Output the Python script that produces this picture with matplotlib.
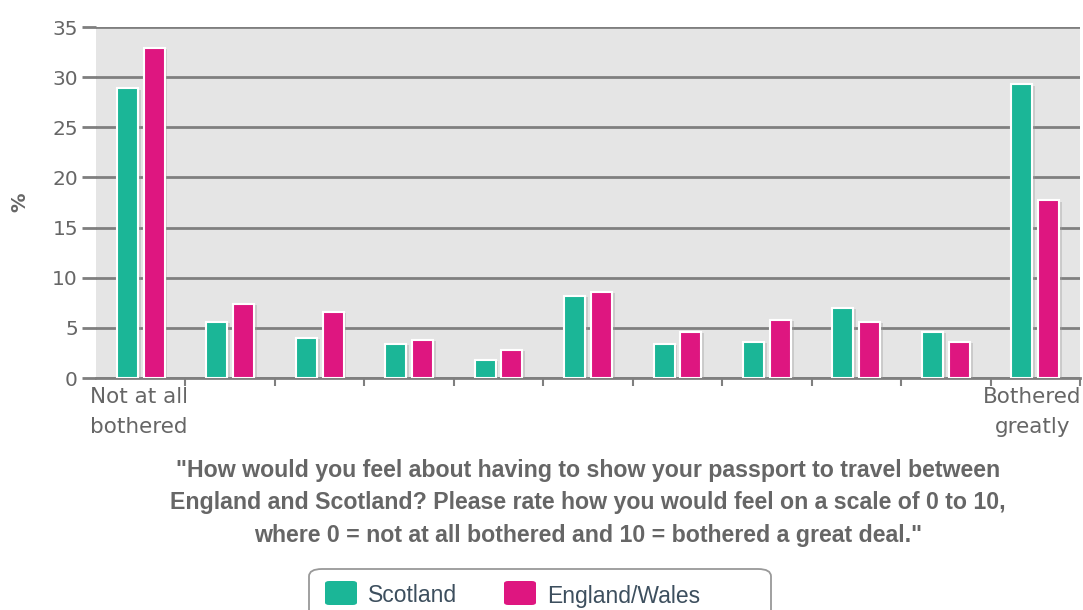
import numpy as np
import matplotlib
matplotlib.use("Agg")
import matplotlib.pyplot as plt
import matplotlib.patheffects as pe
from matplotlib.patches import FancyBboxPatch

# scale 0..10
scale = list(range(11))
scotland = [28.9, 5.6, 4.0, 3.4, 1.8, 8.2, 3.4, 3.6, 7.0, 4.6, 29.3]
england_wales = [32.9, 7.4, 6.6, 3.8, 2.8, 8.6, 4.6, 5.8, 5.6, 3.6, 17.7]
series_names = ["Scotland", "England/Wales"]
yticks = [0, 5, 10, 15, 20, 25, 30, 35]

TEAL = "#1bb697"; MAG = "#de1680"; GRIS = "#666666"; GRID = "#7f7f7f"
W, H = 1083, 610

fig = plt.figure(figsize=(W / 100, H / 100), dpi=100)
ax = fig.add_axes([96 / W, (H - 378) / H, (1080 - 96) / W, (378 - 27) / H])
ax.set_facecolor("#e5e5e5")

x = np.array(scale)
sh = [pe.SimplePatchShadow(offset=(2, -1), shadow_rgbFace="#999999", alpha=0.35), pe.Normal()]
for vals, off, col in [(scotland, -0.15, TEAL), (england_wales, 0.15, MAG)]:
    bars = ax.bar(x + off, vals, width=0.235, color=col, edgecolor="white", linewidth=1.5, zorder=3)
    for b in bars:
        b.set_path_effects(sh)

ax.set_xlim(-0.5, 10.5)
ax.set_ylim(0, 35)
ax.set_yticks(yticks)
ax.set_yticklabels([str(v) for v in yticks], color=GRIS, fontsize=14.5, family="DejaVu Sans")
ax.tick_params(axis="y", length=10, width=2, color=GRID, pad=3)
ax.yaxis.grid(True, color=GRID, lw=2, zorder=1)
ax.set_axisbelow(True)

ax.set_xticks(np.arange(0.5, 11, 1))
ax.set_xticklabels([])
ax.tick_params(axis="x", length=6, width=1.5, color=GRID, direction="out")

for s in ["top", "right", "left"]:
    ax.spines[s].set_visible(False)
ax.spines["bottom"].set_color(GRID)
ax.spines["bottom"].set_linewidth(2)

ax.text(-0.57, -0.9, "Not at all\nbothered", ha="left", va="top", color=GRIS,
        fontsize=15.5, linespacing=1.65, transform=ax.transData)
ax.text(10.52, -0.9, "Bothered\ngreatly", ha="right", va="top", color=GRIS,
        fontsize=15.5, linespacing=1.65, multialignment="center", transform=ax.transData)

fig.text(20 / W, (H - 202) / H, "%", rotation=90, ha="center", va="center",
         color=GRIS, fontsize=14, fontweight="bold")

fig.text(588 / W, (H - 503) / H,
         "\"How would you feel about having to show your passport to travel between\n"
         "England and Scotland? Please rate how you would feel on a scale of 0 to 10,\n"
         "where 0 = not at all bothered and 10 = bothered a great deal.\"",
         ha="center", va="center", color=GRIS, fontsize=16.7, fontweight="bold",
         family="Liberation Sans", linespacing=1.55)

# legend box (cut at bottom edge like the original)
box = FancyBboxPatch((309 / W, -20 / H), (771 - 309) / W, 61 / H,
                     boxstyle="round,pad=0,rounding_size=0.012", transform=fig.transFigure,
                     facecolor="white", edgecolor="#999999", lw=1.3)
fig.patches.append(box)
for nm, col, x0 in [(series_names[0], TEAL, 325), (series_names[1], MAG, 504)]:
    sq = FancyBboxPatch((x0 / W, (H - 605) / H), 32 / W, 24 / H,
                        boxstyle="round,pad=0,rounding_size=0.004", transform=fig.transFigure,
                        facecolor=col, edgecolor="none")
    fig.patches.append(sq)
    fig.text((x0 + 43) / W, (H - 596) / H, nm, ha="left", va="center",
             color="#3d4f5e", fontsize=16.5, family="Liberation Sans")

fig.savefig("out.png", dpi=100)
